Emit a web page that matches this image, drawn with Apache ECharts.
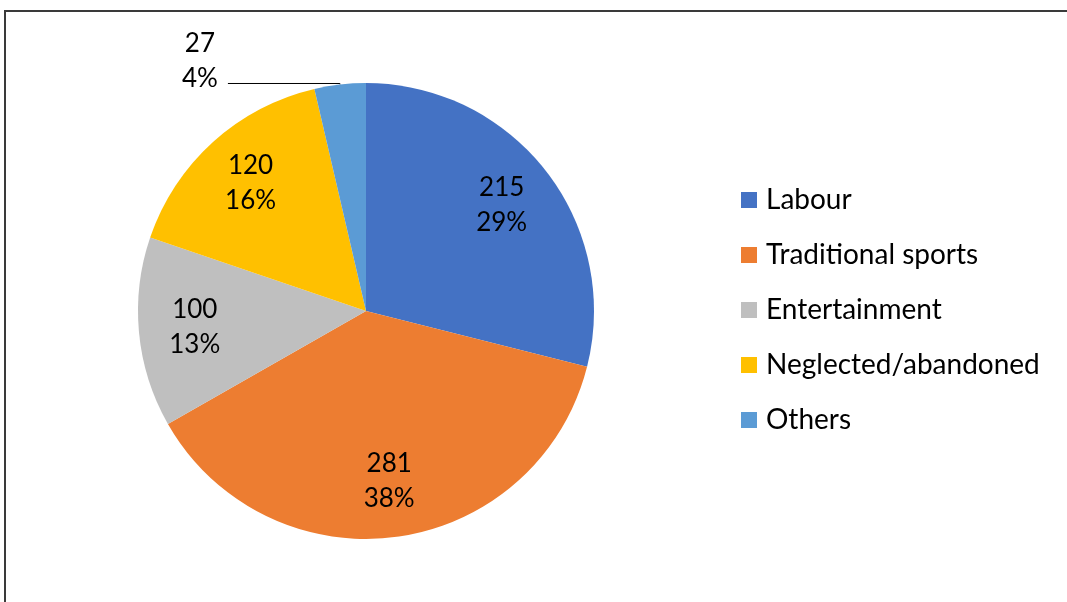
<!DOCTYPE html>
<html>
<head>
<meta charset="utf-8">
<script src="https://cdn.jsdelivr.net/npm/echarts@6/dist/echarts.min.js"></script>
<style>
html,body{margin:0;padding:0;background:#fff;}
#chart{width:1067px;height:602px;}
</style>
</head>
<body>
<div id="chart"></div>
<script>
const categories = ['Labour', 'Traditional sports', 'Entertainment', 'Neglected/abandoned', 'Others'];
const values = [215, 281, 100, 120, 27];
const colors = ['#4472C4', '#ED7D31', '#BFBFBF', '#FFC000', '#5B9BD5'];

const FONT = 'Lato';
const total = values.reduce((a, b) => a + b, 0);
const pctText = v => Math.round(v / total * 100) + '%';

const mainData = categories.map((c, i) => {
  const d = { name: c, value: values[i], itemStyle: { color: colors[i] } };
  if (c === 'Others') {
    d.label = {
      show: true,
      position: 'outside',
      formatter: p => '{a|' + p.value + '}\n{a|' + pctText(p.value) + '}',
      padding: [0, 0, 44, 0],
      rich: { a: { width: 46, align: 'center', fontSize: 26, lineHeight: 35, fontFamily: FONT, color: '#000' } }
    };
    d.labelLine = { show: true, length: 1, length2: 112, lineStyle: { color: '#000', width: 1 } };
  }
  return d;
});

const overlayData = categories.map((c, i) => ({
  name: c, value: values[i],
  itemStyle: { color: 'rgba(0,0,0,0)' },
  label: { show: c !== 'Others' }
}));

const chart = echarts.init(document.getElementById('chart'), null, { renderer: 'canvas' });
chart.setOption({
  animation: false,
  backgroundColor: '#fff',
  graphic: [{
    type: 'rect', z: 100,
    shape: { x: 5, y: 11, width: 1200, height: 800 },
    style: { fill: 'none', stroke: '#3a3a3a', lineWidth: 2 }
  }],
  legend: {
    orient: 'vertical',
    left: 741, top: 186,
    padding: 0,
    data: categories,
    icon: 'rect',
    itemWidth: 16, itemHeight: 16,
    itemGap: 27,
    selectedMode: false,
    textStyle: { fontFamily: FONT, fontSize: 28, color: '#000', lineHeight: 28, padding: [0, 0, 0, 4] }
  },
  series: [{
    type: 'pie',
    center: [366, 311],
    radius: [0, 228],
    startAngle: 90,
    clockwise: true,
    silent: true,
    label: { show: false },
    labelLine: { show: false },
    itemStyle: { borderWidth: 0 },
    data: mainData
  }, {
    type: 'pie',
    center: [366, 311],
    radius: [110, 228],
    startAngle: 90,
    clockwise: true,
    silent: true,
    label: {
      show: true,
      position: 'inside',
      formatter: p => p.value + '\n' + pctText(p.value),
      fontFamily: FONT, fontSize: 26, lineHeight: 35, color: '#000', align: 'center'
    },
    labelLine: { show: false },
    data: overlayData
  }]
});
</script>
</body>
</html>
